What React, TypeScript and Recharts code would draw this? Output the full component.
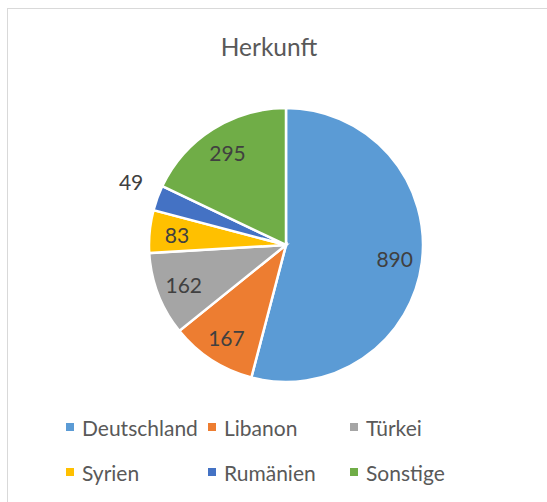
import { Legend, Pie, PieChart, Cell } from "recharts";

const countries = ["Deutschland", "Libanon", "Türkei", "Syrien", "Rumänien", "Sonstige"];
const counts = [890, 167, 162, 83, 49, 295];
const colors = ["#5B9BD5", "#ED7D31", "#A5A5A5", "#FFC000", "#4472C4", "#70AD47"];

const FONT = "Lato, 'Open Sans', sans-serif";
const RAD = Math.PI / 180;

const data = countries.map((name, i) => ({ name, value: counts[i] }));

type LabelProps = {
  cx?: number;
  cy?: number;
  midAngle?: number;
  outerRadius?: number;
  percent?: number;
  value?: number;
};

function SliceLabel(props: LabelProps) {
  const { cx = 0, cy = 0, midAngle = 0, outerRadius = 0, percent = 0, value } = props;
  // small slices get their label outside, like Excel's best fit
  const outside = percent < 0.04;
  const r = outside ? outerRadius + 28 : outerRadius * 0.8;
  const x = cx + r * Math.cos(-midAngle * RAD);
  const y = cy + r * Math.sin(-midAngle * RAD) - (outside ? 7 : 0);
  return (
    <text
      x={x}
      y={y}
      fill="#404040"
      fontSize={21}
      fontFamily={FONT}
      textAnchor="middle"
      dominantBaseline="central"
    >
      {value}
    </text>
  );
}

type LegendItem = { value?: string; color?: string };

function LegendGrid({ payload }: { payload?: LegendItem[] }) {
  const items = [...(payload ?? [])].sort(
    (a, b) => countries.indexOf(a.value ?? "") - countries.indexOf(b.value ?? "")
  );
  return (
    <div
      style={{
        display: "grid",
        gridTemplateColumns: "142px 142px 142px",
        rowGap: 17,
        fontFamily: FONT,
        fontSize: 21,
        color: "#595959",
      }}
    >
      {items.map((p) => (
        <div key={p.value} style={{ display: "flex", alignItems: "center", height: 28 }}>
          <span
            style={{
              width: 8,
              height: 8,
              background: p.color,
              display: "inline-block",
              marginRight: 8,
            }}
          />
          <span>{p.value}</span>
        </div>
      ))}
    </div>
  );
}

export default function App() {
  return (
    <div
      style={{
        position: "fixed",
        left: 7,
        top: 8,
        right: 0,
        bottom: 0,
        overflow: "hidden",
        borderLeft: "1px solid #d9d9d9",
        borderTop: "1px solid #d9d9d9",
        background: "#fff",
      }}
    >
      <div
        style={{
          position: "absolute",
          left: 0,
          width: 522,
          top: 23,
          textAlign: "center",
          fontFamily: FONT,
          fontSize: 24.5,
          color: "#595959",
        }}
      >
        Herkunft
      </div>
      <PieChart width={530} height={490}>
        <Pie
          data={data}
          dataKey="value"
          nameKey="name"
          cx={273}
          cy={231}
          outerRadius={137}
          startAngle={90}
          endAngle={-270}
          stroke="#fff"
          strokeWidth={2.5}
          label={<SliceLabel />}
          labelLine={false}
          isAnimationActive={false}
        >
          {data.map((d, i) => (
            <Cell key={d.name} fill={colors[i]} />
          ))}
        </Pie>
        <Legend
          content={<LegendGrid />}
          itemSorter={null}
          wrapperStyle={{ position: "absolute", left: 58, top: 404, width: 440 }}
        />
      </PieChart>
    </div>
  );
}
